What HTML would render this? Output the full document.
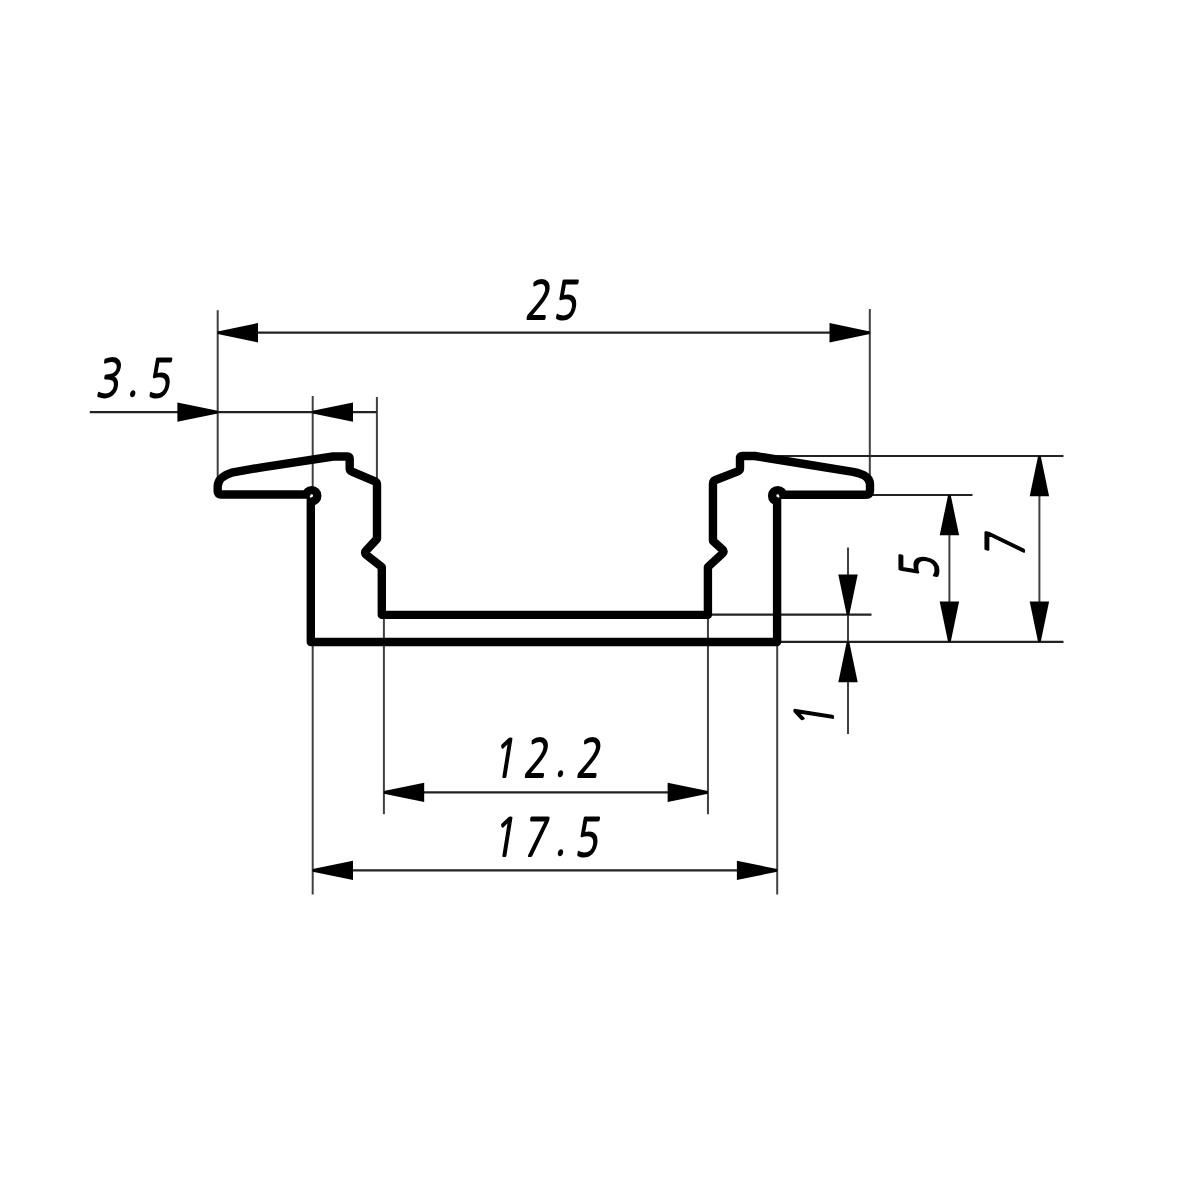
<!DOCTYPE html>
<html lang="en">
<head>
<meta charset="utf-8">
<title>Profile drawing 25 x 7</title>
<style>
html,body{margin:0;padding:0;background:#fff;}
body{width:1181px;height:1181px;overflow:hidden;}
svg{display:block;will-change:transform;}
.t{font-family:"NanumGothic","Liberation Sans",sans-serif;font-size:52.1px;fill:#000;stroke:#000;stroke-width:1.6;stroke-linejoin:round;vector-effect:non-scaling-stroke;}
</style>
</head>
<body>
<svg width="1181" height="1181" viewBox="0 0 1181 1181">
<rect width="1181" height="1181" fill="#fff"/>
<g stroke="#404040" stroke-width="2" fill="none">
<line x1="217.7" y1="310.2" x2="217.7" y2="478"/>
<line x1="869.8" y1="309" x2="869.8" y2="476"/>
<line x1="312.7" y1="396" x2="312.7" y2="490"/>
<line x1="376.9" y1="397" x2="376.9" y2="480"/>
<line x1="312.7" y1="642" x2="312.7" y2="894.5"/>
<line x1="383.9" y1="614" x2="383.9" y2="814.2"/>
<line x1="707.95" y1="614" x2="707.95" y2="814.2"/>
<line x1="777.2" y1="642" x2="777.2" y2="894.5"/>
<line x1="848" y1="547.6" x2="848" y2="734"/>
<line x1="949.4" y1="495" x2="949.4" y2="642"/>
<line x1="1039.4" y1="456" x2="1039.4" y2="642"/>
</g>
<g stroke="#222" stroke-width="2.2" fill="none">
<line x1="755" y1="456" x2="1063.5" y2="456"/>
<line x1="870" y1="495" x2="972.5" y2="495"/>
<line x1="708" y1="614.7" x2="871.5" y2="614.7"/>
<line x1="777" y1="641.9" x2="1063.5" y2="641.9"/>
<line x1="217.7" y1="332.7" x2="869.8" y2="332.7"/>
<line x1="89.8" y1="412.1" x2="376.7" y2="412.1"/>
<line x1="383.9" y1="792.4" x2="707.95" y2="792.4"/>
<line x1="312.7" y1="870.4" x2="777.2" y2="870.4"/>
</g>
<g fill="#000">
<polygon points="217.7,331.4 258,323 258,342.4 217.7,334"/>
<polygon points="869.8,334 829.5,342.4 829.5,323 869.8,331.4"/>
<polygon points="217.7,413.4 177.4,421.8 177.4,402.4 217.7,410.8"/>
<polygon points="312.7,410.8 353,402.4 353,421.8 312.7,413.4"/>
<polygon points="383.9,791.1 424.2,782.7 424.2,802.1 383.9,793.7"/>
<polygon points="707.95,793.7 667.65,802.1 667.65,782.7 707.95,791.1"/>
<polygon points="312.7,869.1 353,860.7 353,880.1 312.7,871.7"/>
<polygon points="777.2,871.7 736.9,880.1 736.9,860.7 777.2,869.1"/>
<polygon points="846.7,614.7 838.3,574.4 857.7,574.4 849.3,614.7"/>
<polygon points="849.3,641.9 857.7,682.2 838.3,682.2 846.7,641.9"/>
<polygon points="950.7,495 959.1,535.3 939.7,535.3 948.1,495"/>
<polygon points="948.1,641.9 939.7,601.6 959.1,601.6 950.7,641.9"/>
<polygon points="1040.7,456 1049.1,496.3 1029.7,496.3 1038.1,456"/>
<polygon points="1038.1,641.9 1029.7,601.6 1049.1,601.6 1040.7,641.9"/>
</g>
<g fill="none" stroke="#000" stroke-width="8.4" stroke-linejoin="round" stroke-linecap="butt">
<path d="M309.9 494.5 L221 494.5 Q217.7 494.5 217.7 491.2 L217.7 486 Q218.2 476.8 233 472.3 L262 467.3 L333 456.5 L347.5 456.4 Q349.7 456.4 349.7 458.6 L349.7 468.5 Q349.7 470.7 352 471.7 L375 481.3 Q377 482.2 377 484.5 L377 538.8 L366.3 550.4 Q363.8 552.7 366.5 555 L381.8 567 L381.8 614.9 L707.9 614.9 L707.9 567 L722.5 553.5 Q724.8 551.4 722.3 549.3 L712.95 540.8 L712.95 484 Q712.95 481 715.5 480 L737.8 471.4 Q740 470.5 740 468.3 L740 458.2 Q740 456 742.2 456 L755 456 L853 471.8 Q870 475 870 484 L870 491 Q870 494.8 866 494.8 L779.4 494.8"/>
<path d="M310.8 497.4 L310.8 642 L777.1 642 L777.1 497.4"/>
<path d="M306.1 495.7 A5.6 5.6 0 1 1 311.7 501.3"/>
<path d="M783.3 495.7 A5.6 5.6 0 1 0 777.7 501.3"/>
</g>
<text class="t" transform="matrix(0.75 0 -0.16 1 524.66 318.6)" x="0 37.04" y="0 0">25</text>
<text class="t" transform="matrix(0.75 0 -0.16 1 95.19 396.9)" x="0 41.04 67.8" y="0 -2.84 0">3.5</text>
<text class="t" transform="matrix(0.75 0 -0.16 1 491.27 777.3)" x="0 42.45 83.26 112.32" y="0 0 -2.84 0">12.2</text>
<text class="t" transform="matrix(0.75 0 -0.16 1 491.27 856)" x="0 41.22 83.26 110.09" y="0 0 -2.84 0">17.5</text>
<text class="t" transform="translate(937.75 580.41) rotate(-90) matrix(0.75 0 -0.16 1 0 0)" x="0" y="0">5</text>
<text class="t" transform="translate(1024.4 558.46) rotate(-90) matrix(0.75 0 -0.16 1 0 0)" x="0" y="0">7</text>
<text class="t" transform="translate(832.5 730.08) rotate(-90) matrix(0.75 0 -0.16 1 0 0)" x="0" y="0">1</text>
</svg>
</body>
</html>
